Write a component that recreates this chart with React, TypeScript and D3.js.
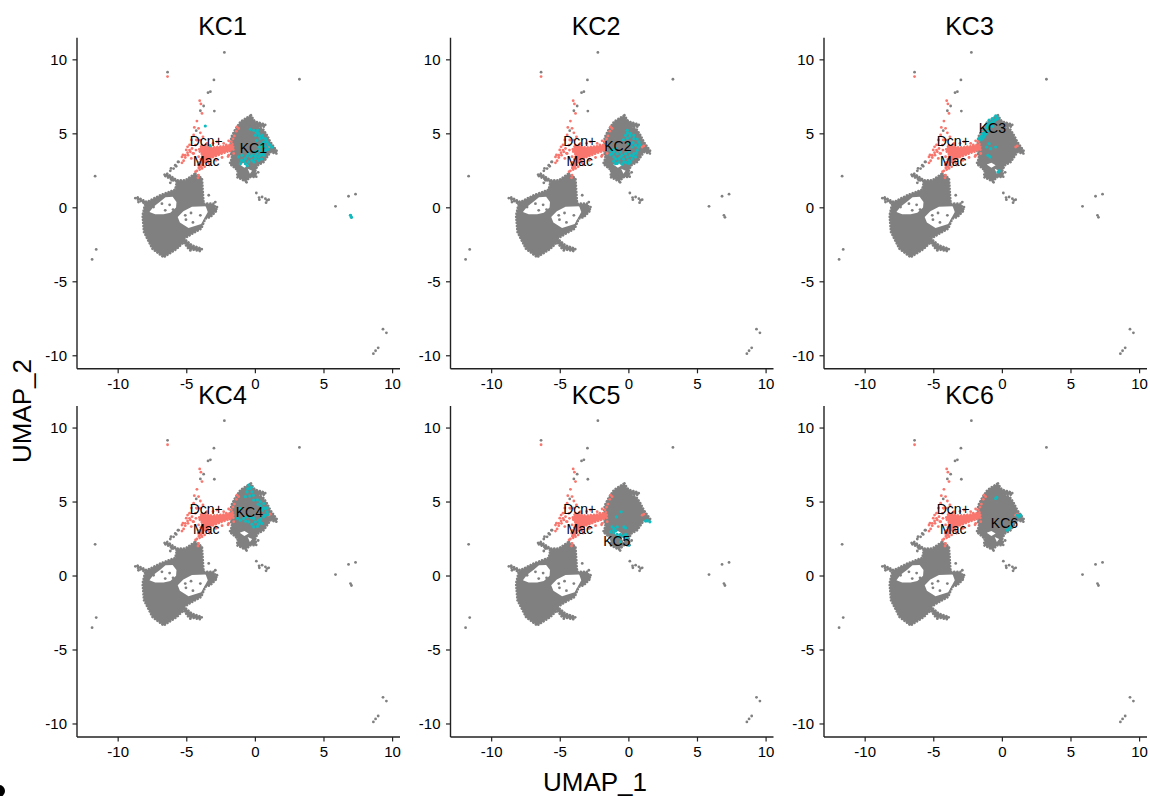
import React from "react";
import * as d3 from "d3";

type P = [number, number];

const panelNames = ["KC1", "KC2", "KC3", "KC4", "KC5", "KC6"];
const xTicks = [-10, -5, 0, 5, 10];
const yTicks = [-10, -5, 0, 5, 10];
const xDomain: P = [-13, 10.54];
const yDomain: P = [-10.88, 11.49];

// Dense gray regions in UMAP units
const mainCloud: P[] = [[-4.38,2.32],[-3.89,1.98],[-3.82,0.96],[-3.77,0.28],[-3.04,0.28],[-2.8,-0.17],[-3.28,-0.62],[-3.65,-0.73],[-3.95,-1.41],[-4.7,-1.8],[-5.2,-2.09],[-4.62,-2.54],[-3.89,-2.77],[-4.01,-2.93],[-4.87,-2.77],[-5.23,-2.32],[-5.72,-2.77],[-6.69,-3.34],[-7.5,-2.77],[-8.12,-1.64],[-8.22,-0.51],[-8.03,0.28],[-8.76,0.66],[-8.64,0.73],[-7.91,0.39],[-6.93,0.85],[-5.84,1.23],[-5.72,1.75],[-6.69,2.2],[-6.45,2.32],[-5.72,1.86],[-5.11,1.86]];
const holeOne: P[] = [[-7.72,-0.29],[-7.42,0.08],[-6.93,0.42],[-6.55,0.72],[-6.03,0.75],[-5.75,0.4],[-5.78,0.02],[-6.2,-0.33],[-6.69,-0.44],[-7.3,-0.44]];
const holeTwo: P[] = [[-5.66,-0.62],[-5.25,-0.24],[-4.62,0.07],[-3.62,0.1],[-3.47,-0.29],[-3.95,-1.1],[-4.87,-1.36],[-5.5,-1.0]];
const kcCloud: P[] = [[-0.32,6.26],[-0.12,5.92],[0.07,5.81],[0.73,5.63],[0.68,5.47],[0.07,5.54],[0.56,5.31],[0.85,4.9],[1.09,4.45],[1.58,3.82],[1.53,3.66],[1.09,3.77],[0.9,3.5],[0.61,3.1],[0.17,2.87],[0,2.53],[0.07,2.08],[-0.36,2.08],[-0.73,1.79],[-1.34,2.08],[-1.29,2.53],[-1.87,2.98],[-1.7,3.37],[-1.87,4],[-1.75,4.79],[-1.46,5.31],[-1.09,5.81],[-0.73,6.03]];
const kcHoleOne: P[] = [[-1.14,2.92],[-0.8,3.05],[-0.49,2.87],[-0.8,2.71]];
const kcHoleTwo: P[] = [[-0.56,2.64],[-0.24,2.5],[-0.4,2.3]];
const macCore: P[] = [[-3.89,4.24],[-3.16,4.08],[-2.19,4.17],[-1.65,4.31],[-1.58,3.94],[-2.43,3.67],[-3.16,3.4],[-3.77,2.99],[-4.09,2.54],[-4.18,2.88],[-3.84,3.56],[-4.14,3.9]];

// Individual cells
const grayDots: P[] = [[-6.4,9.17],[-2.26,10.5],[3.21,8.69],[-3.02,8.64],[-3.45,7.78],[-3.28,7.85],[-3.77,6.88],[-4.01,6.56],[-2.99,6.54],[-4.31,5.21],[-5.6,3.1],[-5.84,2.88],[-6.15,2.66],[-6.2,2.5],[-5.96,2.65],[-5.77,2.81],[-5.64,3.1],[-11.68,2.14],[-11.6,-2.81],[-11.9,-3.49],[5.84,0.1],[6.93,-0.51],[7,-0.64],[6.79,0.78],[7.3,0.92],[9.3,-8.2],[9.55,-8.45],[8.95,-9.46],[8.76,-9.66],[8.6,-9.86],[0.07,1],[0.27,0.69],[0.49,0.73],[0.29,0.55],[0.73,0.62],[0.97,0.55],[0.78,0.35],[0.85,0.5],[-7.42,0.05],[-6.81,0.28],[-6.25,0.2],[-6.57,-0.17],[-6,-0.12],[-5.06,-0.8],[-4.69,-0.35],[-4.01,-0.51],[-5.11,-0.51],[-4.55,-0.99],[-3.4,0.85],[-3.57,0.18],[-2.92,0.39],[-2.8,0.05],[-5.35,-2.02],[-4.74,-2.88],[-8.52,0.39],[-6.2,1.69],[-6.08,1.86],[-0.64,1.72],[0.2,2.4]];
const redDots: P[] = [[-6.4,8.87],[-4.06,7.24],[-3.97,7.02],[-3.89,6.38],[-4.26,5.86],[-4.45,5.43],[-4.14,5.37],[-4.01,5.07],[-4.5,4.92],[-3.82,4.8],[-4.26,4.58],[-4.94,4.12],[-4.8,3.9],[-4.94,3.72],[-5.11,3.56],[-5.35,3.44],[-4.8,4.25],[-5.04,3.91],[-5.28,3.57],[-4.67,4.59],[-4.31,4.59],[-3.58,4.29],[-3.09,4.36],[-2.12,4.25],[-1.75,4.47],[-1.63,4.66],[-1.99,3.46],[-2.85,3.23],[-3.34,2.9],[-3.7,2.78],[-4.55,3.68],[-4.67,3.34],[-4.36,2.44],[-4.18,2.03],[-1.34,5.47],[-1.22,5.36],[-1.39,5.18],[-1.53,4.86],[0.97,4.11],[1.09,4.18],[-4.38,4.24],[-4.33,3.9],[-4.5,3.67],[-4.62,4.01],[-4.74,3.79],[-4.91,3.56],[-5.11,3.4],[-5.23,3.18],[-5.35,3.04],[-4.14,3.45],[-3.53,3.27],[-2.92,3.22],[-2.43,3.4],[-1.95,3.56],[-1.58,3.67],[-4.14,2.2],[-4.26,2.5],[-3.89,2.66],[-3.41,3.04],[-4.01,4.58],[-3.53,4.35],[-2.8,4.46],[-2.31,4.35],[-1.95,4.53]];

// Highlighted cells of each panel
const kc1Cells: P[] = [[-0.36,5.31],[-0.12,5.24],[0.17,5.24],[0.24,5.02],[0.49,4.9],[0.73,4.68],[0.61,4.45],[0.36,4.68],[0.85,4.11],[0.73,3.89],[0.49,3.66],[0.24,3.44],[0,3.32],[-0.24,3.55],[-0.49,3.66],[-0.73,3.32],[-0.97,3.55],[-1.22,3.44],[0.36,3.89],[0.12,3.66],[0.61,3.55],[-0.12,3.77],[0.85,4.45],[0,4.9],[1.09,4.23],[-1.09,2.98],[-0.73,2.98],[0.24,3.21],[-0.24,3.21],[0.49,4.11],[6.93,-0.51],[7,-0.64],[-3.65,5.53],[-3.3,4.2],[0.1,4.55],[0.45,4.3],[0.65,4.2],[0.95,4.3],[0.8,4.55],[0.55,4.75],[0.3,4.85],[0.1,5.1],[0,3.5],[0.35,3.55],[0.6,3.75],[0.15,3.85],[-0.35,3.45],[-0.6,3.5],[-0.85,3.15],[-0.5,3.1],[-1,3.2],[0.9,3.95],[0.45,3.3],[-0.1,3.1],[-0.6,2.85],[0.3,4.1],[1.2,4.1]];
const kc2Cells: P[] = [[-0.12,5.24],[0.12,5.02],[-0.24,4.9],[0.36,4.9],[-1.34,3.89],[-1.22,3.66],[-0.85,3.66],[-1.09,3.44],[-0.73,3.32],[-0.49,3.55],[-0.24,3.66],[0.12,3.55],[0.36,3.66],[0.61,3.89],[0.49,4.23],[0.24,4.11],[0.73,4.45],[0.36,4.68],[0,3.21],[-0.36,3.1],[-0.73,3.1],[-0.97,2.98],[0.12,3.1],[-0.12,3.44],[-0.61,3.77],[0.49,3.44],[-1.58,4.23],[-0.97,4],[0,3.8],[-0.4,3.3],[-0.6,3.45],[-0.95,3.3],[-0.85,3],[-0.5,2.95],[-0.2,3.05],[0.25,3.3],[0.3,3.5],[0.55,3.7],[0.7,4.1],[0.6,4.65],[0.3,4.4],[0.05,4.3],[-0.1,4.7],[-0.4,4.6],[-1.1,3.8],[-1.35,3.6],[-1.2,3.9],[0.8,4.25],[0.1,4.85],[-0.1,5.05],[0,3],[-1.1,3.15]];
const kc3Cells: P[] = [[-0.49,6.21],[-0.36,6.03],[-0.73,6.03],[-0.61,5.85],[-0.97,5.92],[-1.09,5.69],[-0.85,5.69],[-1.34,5.24],[-1.46,5.02],[-1.58,4.79],[-1.7,4.68],[-1.22,5.02],[-1.34,4.79],[-1.2,5.4],[-1.05,5.2],[-0.97,4.34],[-1.14,4.11],[-0.85,4],[-0.49,4.11],[-0.9,3.44],[-1.05,3.55],[-0.24,2.49],[-0.32,2.42],[-0.5,5.95],[-0.75,5.8],[-0.95,5.55],[-1.15,5.55],[-1.3,5.1],[-1.5,4.85],[-1.45,4.65],[-1.6,4.6],[-1.05,5.45],[-0.7,5.5],[-0.4,6.15],[-1.25,4.95]];
const kc4Cells: P[] = [[-0.49,6.15],[-0.36,5.92],[-0.61,5.69],[-0.73,5.36],[-0.24,5.69],[-0.12,5.13],[0.36,5.02],[0.61,4.9],[0.73,4.56],[0.49,4.45],[0.85,4.34],[-0.61,4],[-0.85,3.89],[-1.09,3.77],[-0.12,3.89],[0,3.66],[0.24,3.77],[0.61,4],[0.49,3.55],[-0.12,3.32],[-0.49,3.66],[-1.09,4.56],[0.24,3.5],[0.73,4.11],[-0.3,6],[-0.55,5.9],[-0.4,5.4],[-0.15,5.45],[0.15,5.15],[0.2,4.85],[0.4,4.75],[0.6,4.6],[0.85,4.6],[0.9,4.15],[0.4,3.85],[0.15,3.35],[-0.25,3.5],[-0.7,3.7],[-1.3,3.9],[-0.3,3.95],[0.35,3.65]];
const kc5Cells: P[] = [[-0.9,4],[-0.56,4.34],[-1.22,3.32],[-1.05,3.21],[-0.85,3.32],[-0.36,3.32],[-0.24,3.25],[-1.34,2.98],[-1.09,2.92],[-0.85,2.82],[-0.61,2.82],[-0.24,2.82],[-0.12,2.64],[-0.61,2.31],[0,2.08],[1.34,3.77],[1.53,3.66],[1.22,3.71],[-1.1,3.1],[-0.95,3.05],[-0.75,2.65],[-0.4,2.7],[-0.2,2.5]];
const kc6Cells: P[] = [[-0.49,5.24],[-0.41,5.31],[0.36,3.1],[0.49,3.21],[0.61,3.32],[0.73,3.55],[1.09,4.11],[1.22,4],[1.34,4.11]];
const cellLists = [kc1Cells, kc2Cells, kc3Cells, kc4Cells, kc5Cells, kc6Cells];

// Cluster labels of each panel
const dcnLabel: P = [-3.58, 4.5];
const macLabel: P = [-3.58, 3.14];
const kcLabels: P[] = [[-0.15,4.03],[-0.8,4.15],[-0.73,5.39],[-0.44,4.34],[-0.88,2.37],[0.15,3.6]];

const GRAY = "#808080";
const RED = "#F8766D";
const CYAN = "#0EBCC0";
const FONT = "'Liberation Sans', Arial, sans-serif";

const panelW = 323;
const panelH = 331;
const lefts = [77, 450.5, 824];
const tops = [37.8, 406];
const titleOffset = 145.5;

const xScale = d3.scaleLinear().domain(xDomain).range([0, panelW]);
const yScale = d3.scaleLinear().domain(yDomain).range([panelH, 0]);
const line = d3.line<P>().x(d => xScale(d[0])).y(d => yScale(d[1])).curve(d3.curveLinearClosed);

function Dots({ data, fill, r = 1.4 }: { data: P[]; fill: string; r?: number }) {
  return (
    <g fill={fill}>
      {data.map((d, i) => <circle key={i} cx={xScale(d[0])} cy={yScale(d[1])} r={r} />)}
    </g>
  );
}

function Mass({ outer, holes = [], fill }: { outer: P[]; holes?: P[][]; fill: string }) {
  const d = [outer, ...holes].map(p => line(p)).join(" ");
  return (
    <g>
      <path d={d} fill={fill} fillRule="evenodd" />
      <path d={line(outer) || ""} fill="none" stroke={fill} strokeWidth={2.6} strokeLinecap="round" strokeDasharray="0.1 3" />
    </g>
  );
}

function Panel({ index }: { index: number }) {
  const col = index % 3;
  const row = Math.floor(index / 3);
  const textLabels: [string, P][] = [["Dcn+", dcnLabel], ["Mac", macLabel], [panelNames[index], kcLabels[index]]];
  return (
    <g transform={`translate(${lefts[col]},${tops[row]})`}>
      <text x={titleOffset} y={-2.5} textAnchor="middle" fontSize={25} fontFamily={FONT} fill="#000">{panelNames[index]}</text>
      <Mass outer={mainCloud} holes={[holeOne, holeTwo]} fill={GRAY} />
      <Mass outer={kcCloud} holes={[kcHoleOne, kcHoleTwo]} fill={GRAY} />
      <Dots data={grayDots} fill={GRAY} />
      <Mass outer={macCore} fill={RED} />
      <Dots data={redDots} fill={RED} />
      <Dots data={cellLists[index]} fill={CYAN} r={1.6} />
      {textLabels.map(([t, p]) => (
        <text key={t} x={xScale(p[0])} y={yScale(p[1])} dy="0.35em" textAnchor="middle" fontSize={14} fontFamily={FONT} fill="#000">{t}</text>
      ))}
      <line x1={0} x2={panelW} y1={panelH} y2={panelH} stroke="#222" strokeWidth={1.4} />
      <line x1={0} x2={0} y1={0} y2={panelH} stroke="#222" strokeWidth={1.4} />
      {xTicks.map(t => (
        <g key={t} transform={`translate(${xScale(t)},${panelH})`}>
          <line y1={0} y2={4.5} stroke="#222" strokeWidth={1.2} />
          <text y={15} dy="0.35em" textAnchor="middle" fontSize={15} fontFamily={FONT} fill="#000">{t}</text>
        </g>
      ))}
      {yTicks.map(t => (
        <g key={t} transform={`translate(0,${yScale(t)})`}>
          <line x1={0} x2={-4.5} stroke="#222" strokeWidth={1.2} />
          <text x={-10} dy="0.35em" textAnchor="end" fontSize={15} fontFamily={FONT} fill="#000">{t}</text>
        </g>
      ))}
    </g>
  );
}

export default function App() {
  return (
    <svg width={1150} height={796} style={{ position: "absolute", left: 0, top: 0, display: "block" }}>
      <rect width={1150} height={796} fill="#fff" />
      {panelNames.map((_, i) => <Panel key={i} index={i} />)}
      <text x={595} y={782} dy="0.35em" textAnchor="middle" fontSize={26} fontFamily={FONT} fill="#000">UMAP_1</text>
      <text transform="translate(22,411) rotate(-90)" dy="0.35em" textAnchor="middle" fontSize={26} fontFamily={FONT} fill="#000">UMAP_2</text>
      <circle cx={-1} cy={791} r={6} fill="#000" />
    </svg>
  );
}
